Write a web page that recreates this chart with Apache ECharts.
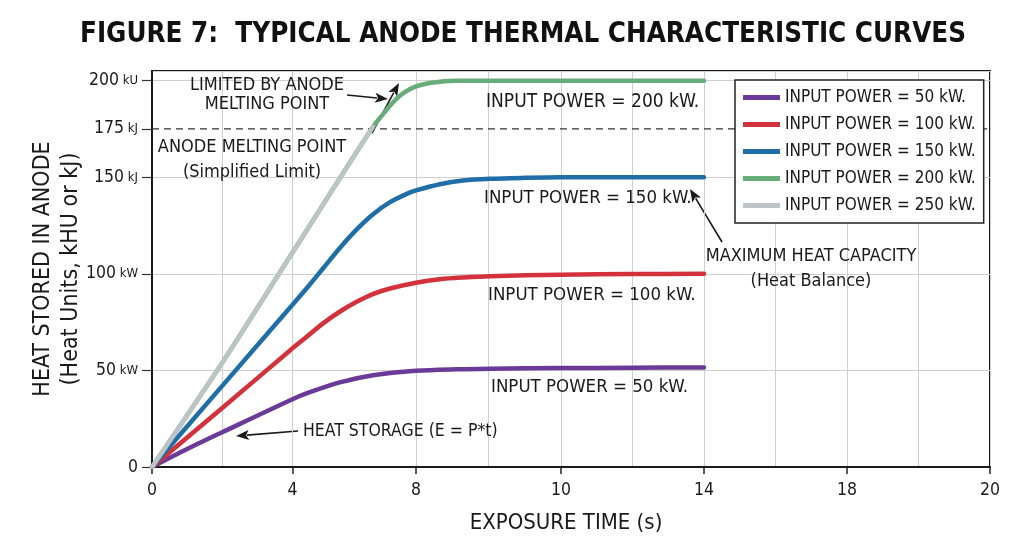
<!DOCTYPE html>
<html>
<head>
<meta charset="utf-8">
<script src="https://cdn.jsdelivr.net/npm/echarts@6/dist/echarts.min.js"></script>
<style>
html,body{margin:0;padding:0;background:#fff;}
#chart{width:1024px;height:559px;}
</style>
</head>
<body>
<div id="chart"></div>
<script>
// ---- data ----
const tickSeconds = [0, 4, 8, 10, 14, 18, 20];
const tickLabels = ['0', '4', '8', '10', '14', '18', '20'];
// the reference spaces its time labels unevenly; slot = where each label sits on a 0..20 track
const tickSlots = [0, 3.353, 6.301, 9.761, 13.174, 16.587, 20];
const gridSeconds = [2, 4, 8, 9, 10, 12, 14, 16, 18, 19, 20];

const yTickValues = [0, 50, 100, 150, 175, 200];
const yTickLabels = ['0', '50 kW', '100 kW', '150 kJ', '175 kJ', '200 kU'];
const meltingPoint = 175;

const seriesNames = ['INPUT POWER = 50 kW.', 'INPUT POWER = 100 kW.', 'INPUT POWER = 150 kW.', 'INPUT POWER = 200 kW.', 'INPUT POWER = 250 kW.'];

// [time s, heat stored kJ]
const p50 = [[0,0],[1,9.3],[2,18],[4,35.1],[4.56,38.7],[5.53,43.8],[6.61,47.5],[8,49.8],[8.56,50.6],[9.02,50.9],[10,51.2],[12,51.4],[14,51.5]];
const p100 = [[0,0],[0.9,13.7],[2,30.5],[3.92,60.2],[4.46,67.4],[5,74.5],[5.54,80.5],[6.08,85.5],[6.62,89.6],[7.16,92.4],[8,95.4],[8.33,97.2],[8.65,98.1],[9.02,98.8],[10,99.5],[12,99.9],[14,100]];
const p150 = [[0,0],[2,42],[4,84],[4.46,92.5],[5,103],[5.54,113.5],[6.08,123],[6.62,131],[7.16,137.1],[7.7,141.4],[8,143.2],[8.33,146.4],[8.65,148.3],[9.02,149.2],[9.5,149.7],[10,150],[14,150]];
const p200 = [[0,0],[2,54],[4,111],[6.58,175.5],[6.94,182.8],[7.26,188.8],[7.59,193.5],[8,197],[8.24,199],[8.56,199.9],[8.93,200],[10,200],[14,200]];
const p250 = [[0,0],[2,54],[4,111],[6.6,176]];

const colors = ['#6b3a98', '#d3323d', '#1f6ea8', '#68ad79', '#bcc4c8'];

// ---- piecewise time scale matching the reference's label spacing ----
function toSlot(s) {
  for (let i = 0; i < tickSeconds.length - 1; i++) {
    const a = tickSeconds[i], b = tickSeconds[i + 1];
    if (s <= b) return tickSlots[i] + (s - a) / (b - a) * (tickSlots[i + 1] - tickSlots[i]);
  }
  return tickSlots[tickSlots.length - 1];
}
const conv = arr => arr.map(([t, e]) => [toSlot(t), e]);

const FONT = "'Liberation Sans Narrow', 'DejaVu Sans Condensed', 'Arial Narrow', sans-serif";
const INK = '#1a1a1a';

function txt(text, x, y, align, size) {
  return { type: 'text', x: x, y: y, z: 50, silent: true,
    style: { text: text, fontFamily: FONT, fontSize: size || 18, fill: INK, align: align || 'left', verticalAlign: 'middle' } };
}
function arrow(x1, y1, x2, y2) {
  const dx = x2 - x1, dy = y2 - y1, L = Math.sqrt(dx * dx + dy * dy);
  const ux = dx / L, uy = dy / L, hl = 13, hw = 5;
  const bx = x2 - ux * hl, by = y2 - uy * hl;
  return { type: 'group', z: 50, silent: true, children: [
    { type: 'line', shape: { x1: x1, y1: y1, x2: bx + ux * 2, y2: by + uy * 2 }, style: { stroke: INK, lineWidth: 1.6 } },
    { type: 'polygon', shape: { points: [[x2, y2], [bx - uy * hw, by + ux * hw], [bx + ux * 3, by + uy * 3], [bx + uy * hw, by - ux * hw]] }, style: { fill: INK } }
  ] };
}

const chart = echarts.init(document.getElementById('chart'));
const dataSets = [p50, p100, p150, p200, p250];

const series = dataSets.map((d, i) => ({
  name: seriesNames[i], type: 'line', data: conv(d), smooth: 0.3, showSymbol: false, symbol: 'none',
  lineStyle: { color: colors[i], width: 4.5, cap: 'round' }, itemStyle: { color: colors[i] }, z: 3 + i, silent: true
}));
series.unshift({
  name: 'melting', type: 'line', data: [[toSlot(0), meltingPoint], [toSlot(20), meltingPoint]], showSymbol: false, symbol: 'none',
  lineStyle: { color: '#333', width: 1.3, type: [7, 5] }, z: 2, silent: true
});

chart.setOption({
  backgroundColor: '#fff',
  animation: false,
  title: {
    text: 'FIGURE 7:  TYPICAL ANODE THERMAL CHARACTERISTIC CURVES',
    left: 518, top: 16, textAlign: 'center',
    textStyle: { fontFamily: FONT, fontWeight: 'bold', fontSize: 27.5, color: '#111' }
  },
  grid: { left: 152, right: 34, top: 71, bottom: 92, show: true, borderColor: '#1a1a1a', borderWidth: 2, backgroundColor: 'transparent' },
  legend: {
    data: seriesNames, orient: 'vertical', left: 735, top: 80,
    icon: 'rect', itemWidth: 37, itemHeight: 5, itemGap: 10,
    padding: [9, 8, 9, 8], backgroundColor: '#fff', borderColor: '#222', borderWidth: 1.5,
    textStyle: { fontFamily: FONT, fontSize: 17, color: INK },
    selectedMode: false
  },
  xAxis: [{
    type: 'value', min: 0, max: 20, position: 'bottom',
    name: 'EXPOSURE TIME (s)', nameLocation: 'middle', nameGap: 45, nameMoveOverlap: false,
    nameTextStyle: { fontFamily: FONT, fontSize: 22, color: INK, padding: [0, 10, 0, 0] },
    axisLine: { show: true, lineStyle: { color: '#1a1a1a', width: 2 } },
    axisTick: { show: true, length: 7, customValues: tickSlots, lineStyle: { color: '#222', width: 1.5 } },
    axisLabel: { customValues: tickSlots, margin: 14, fontFamily: FONT, fontSize: 17.5, color: INK,
      formatter: function (v) {
        let bi = 0; for (let i = 0; i < tickSlots.length; i++) if (Math.abs(tickSlots[i] - v) < Math.abs(tickSlots[bi] - v)) bi = i;
        return tickLabels[bi];
      } },
    splitLine: { show: false }
  }, {
    type: 'value', min: 0, max: 20, position: 'top',
    axisLine: { show: false }, axisLabel: { show: false },
    axisTick: { show: false, customValues: gridSeconds.map(toSlot) },
    splitLine: { show: true, lineStyle: { color: '#cfcfcf', width: 1 } }
  }],
  yAxis: [{
    type: 'value', min: 0, max: 205, position: 'left',
    name: 'HEAT STORED IN ANODE\n(Heat Units, kHU or kJ)', nameLocation: 'middle', nameGap: 67, nameRotate: 90, nameMoveOverlap: false,
    nameTextStyle: { fontFamily: FONT, fontSize: 23, color: INK, lineHeight: 28, align: 'center' },
    axisLine: { show: true, lineStyle: { color: '#1a1a1a', width: 2 } },
    axisTick: { show: true, length: 10, customValues: yTickValues, lineStyle: { color: '#333', width: 1.2 } },
    axisLabel: { customValues: yTickValues, margin: 14, color: INK,
      formatter: function (v) {
        const i = yTickValues.indexOf(v);
        const parts = (i >= 0 ? yTickLabels[i] : String(v)).split(' ');
        return parts.length > 1 ? '{n|' + parts[0] + '}{u| ' + parts[1] + '}' : '{n|' + parts[0] + '}';
      },
      rich: { n: { fontFamily: FONT, fontSize: 17.5, color: INK }, u: { fontFamily: FONT, fontSize: 13, color: INK } } },
    splitLine: { show: false }
  }, {
    type: 'value', min: 0, max: 205, interval: 50, position: 'right',
    axisLine: { show: false }, axisLabel: { show: false }, axisTick: { show: false },
    splitLine: { show: true, lineStyle: { color: '#cfcfcf', width: 1 } }
  }],
  series: series,
  graphic: [
    txt('LIMITED BY ANODE', 267, 85, 'center'),
    txt('MELTING POINT', 267, 104, 'center'),
    arrow(347, 95, 388, 99),
    arrow(372, 133, 399, 83),
    txt('ANODE MELTING POINT', 252, 147, 'center'),
    txt('(Simplified Limit)', 252, 172, 'center'),
    txt('INPUT POWER = 200 kW.', 486, 102, 'left', 19),
    txt('INPUT POWER = 150 kW.', 484, 198, 'left', 18.5),
    txt('INPUT POWER = 100 kW.', 488, 295, 'left', 18.5),
    txt('INPUT POWER = 50 kW.', 491, 387, 'left', 18.5),
    txt('HEAT STORAGE (E = P*t)', 303, 431, 'left', 17.5),
    arrow(298, 431, 236, 436),
    txt('MAXIMUM HEAT CAPACITY', 811, 256, 'center'),
    txt('(Heat Balance)', 811, 281, 'center'),
    arrow(722, 242, 690, 189)
  ]
});
</script>
</body>
</html>
